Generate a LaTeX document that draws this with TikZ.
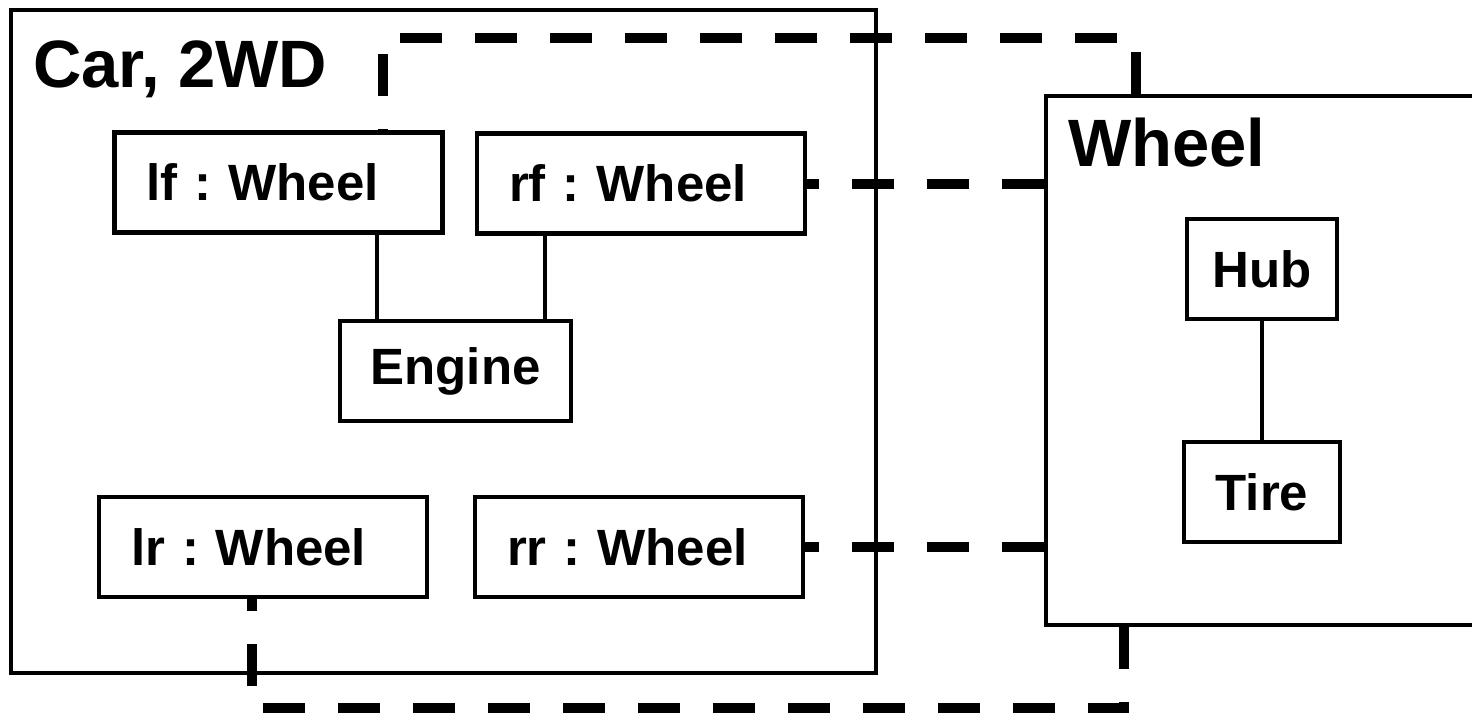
\documentclass[tikz,border=0pt]{standalone}
\usepackage{fontspec}
\setmainfont{Liberation Sans}
\usepackage{tikz}
\usetikzlibrary{positioning, calc}
\newcommand{\partfont}{\fontsize{51}{60}\selectfont\bfseries}
\newcommand{\titlefont}{\fontsize{67}{78}\selectfont\bfseries}

\begin{document}
\begin{tikzpicture}[x=1pt,y=-1pt,
    frame/.style={draw,line width=4.5pt,inner sep=0pt},
    partbox/.style={draw,fill=white,line width=4.5pt,font=\partfont,
      minimum height=100pt,inner xsep=32pt,text width=264pt,align=left},
    classbox/.style={draw,fill=white,line width=4.5pt,font=\partfont,
      minimum height=100pt,inner sep=0pt},
    link/.style={line width=4.5pt},
    assoc/.style={line width=10pt,dash pattern=on 42pt off 33pt}]
  \useasboundingbox (0,0) rectangle (1472,715);
  % outer frames
  \node[frame,minimum width=865pt,minimum height=663pt] (car) at (443.5,341.5) {};
  \node[frame,minimum width=474pt,minimum height=529pt] (wheel) at (1283,360.5) {};
  \node[font=\titlefont,inner sep=0pt,anchor=base west] (cartitle) at (33,87) {Car, 2WD};
  \node[font=\titlefont,inner sep=0pt,anchor=base west] (wheeltitle) at (1068,166) {Wheel};
  % bends of the dashed connectors
  \coordinate (topbend) at (383,38);
  \coordinate (botbend) at (252,708);
  % parts of the car
  \foreach \name/\x/\y/\txt in {lf/278.5/182.5/lf, rf/641/183.5/rf,
                                lr/263/547/lr, rr/639/547/rr} {
    \node[partbox] (\name) at (\x,\y) {\txt\ :\ Wheel};
  }
  \node[classbox,minimum width=231pt] (engine) at (455.5,371) {Engine};
  % parts of the wheel
  \node[classbox,minimum width=150pt] (hub) at (1262,269) {Hub};
  \node[classbox,minimum width=156pt] (tire) at (1262,492) {Tire};
  % solid links
  \draw[link] (lf.south -| 377,0) -- (engine.north -| 377,0);
  \draw[link] (rf.south -| 545,0) -- (engine.north -| 545,0);
  \draw[link] (hub.south) -- (tire.north);
  % dashed links to the wheel class
  \draw[assoc] (wheel.north -| 1136,0) |- (topbend) -- (lf.north -| topbend);
  \draw[assoc] (wheel.west |- rf.east) -- (rf.east);
  \draw[assoc] (wheel.west |- rr.east) -- (rr.east);
  \draw[assoc] (wheel.south -| 1124,0) |- (botbend) -- (lr.south -| botbend);
\end{tikzpicture}
\end{document}
